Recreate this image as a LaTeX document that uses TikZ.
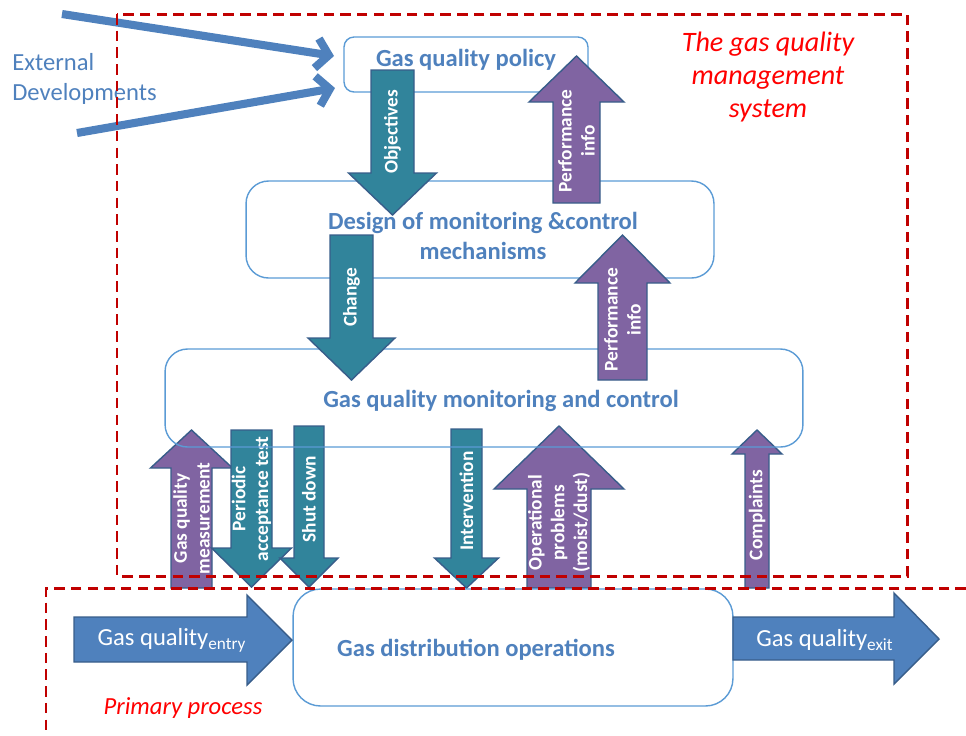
\documentclass[tikz,border=0pt]{standalone}
\usepackage{fontspec}
\setmainfont{Carlito}
\usetikzlibrary{arrows.meta}

\definecolor{boxblue}{RGB}{79,129,189}
\definecolor{boxline}{RGB}{91,155,213}
\definecolor{arrteal}{RGB}{49,132,155}
\definecolor{arrpurple}{RGB}{128,100,162}
\definecolor{arrline}{RGB}{56,93,138}
\definecolor{dashred}{RGB}{192,0,0}

\tikzset{
  procbox/.style={draw=boxline, line width=0.8pt, inner sep=0pt},
  boxlabel/.style={text=boxblue, font=\fontsize{14}{17}\selectfont\bfseries, align=center},
  tealarrow/.style={fill=arrteal, draw=arrline, line width=0.8pt},
  purplearrow/.style={fill=arrpurple, draw=arrline, line width=0.8pt},
  bluearrow/.style={fill=boxblue, draw=arrline, line width=0.8pt},
  arrowlabel/.style={text=white, font=\fontsize{11}{13}\selectfont\bfseries,
    align=center, rotate=90, inner sep=0pt},
  flowlabel/.style={text=white, font=\fontsize{14}{17}\selectfont},
  dashframe/.style={draw=dashred, line width=1.7pt, dash pattern=on 6pt off 3.5pt},
  redlabel/.style={text=red, font=\fontsize{16}{19}\selectfont\itshape, align=center},
  extarrow/.style={draw=boxblue, line width=4.6pt, -{Straight Barb[length=7pt,width=17pt]}},
}

% block arrow: name, x, tail y, head base y, tip y, half shaft, half head, style, text
\newcommand{\blockarrow}[9]{%
  \draw[#8] (#2-#6,#3) -- (#2-#6,#4) -- (#2-#7,#4) -- (#2,#5)
    -- (#2+#7,#4) -- (#2+#6,#4) -- (#2+#6,#3) -- cycle;
  \node[arrowlabel] (#1) at (#2,{0.5*#3+0.25*#4+0.25*#5}) {#9};
}

\begin{document}
\begin{tikzpicture}[x=0.02cm,y=-0.02cm]
  \useasboundingbox (0,0) rectangle (966,735);

  % bottom arrows between monitoring and operations
  \blockarrow{measure}{191.5}{588}{468}{430}{20.5}{41}{purplearrow}{Gas quality\\measurement}
  \blockarrow{periodic}{251.5}{430}{548}{587}{20.5}{40}{tealarrow}{Periodic\\acceptance test}
  \blockarrow{shutdown}{309}{426}{558}{587}{15}{29}{tealarrow}{Shut down}
  \blockarrow{interv}{466.5}{429}{558}{588}{15.5}{32}{tealarrow}{Intervention}
  \blockarrow{operat}{559}{588}{489}{426}{32}{65}{purplearrow}{Operational\\problems\\(moist/dust)}
  \blockarrow{complain}{757}{588}{454}{430}{12}{25}{purplearrow}{Complaints}

  % boxes
  \node (policy) [procbox, rounded corners=0.2cm, minimum width=4.88cm,
    minimum height=1.1cm] at (466,64.5) {};
  \node (design) [procbox, rounded corners=0.45cm, minimum width=9.36cm,
    minimum height=1.94cm] at (480,229.5) {};
  \node (monitor) [procbox, rounded corners=0.45cm, minimum width=12.76cm,
    minimum height=1.96cm] at (484,398) {};
  \node (distrib) [procbox, fill=white, rounded corners=0.55cm, minimum width=8.8cm,
    minimum height=2.34cm] at (513,647.5) {};

  \node (policytxt) [boxlabel] at (466,60) {Gas quality policy};
  \node (designtxt) [boxlabel] at (483,236) {Design of monitoring \&control\\mechanisms};
  \node (monitortxt) [boxlabel] at (501,401) {Gas quality monitoring and control};
  \node (distribtxt) [boxlabel] at (476,650) {Gas distribution operations};

  % arrows between the upper boxes
  \blockarrow{objectives}{392.5}{70}{173}{215}{21.5}{44}{tealarrow}{Objectives}
  \blockarrow{perftop}{576.5}{203}{102}{56}{23.5}{47.5}{purplearrow}{Performance\\info}
  \blockarrow{change}{351.5}{235}{338}{380}{21.5}{43.5}{tealarrow}{Change}
  \blockarrow{perfmid}{622.5}{380}{283}{235}{24.5}{47.5}{purplearrow}{Performance\\info}

  % primary flow
  \draw[bluearrow] (74,617) -- (247,617) -- (247,595) -- (292,640)
    -- (247,685) -- (247,662) -- (74,662) -- cycle;
  \node (entry) [flowlabel] at (172,640) {Gas quality\textsubscript{entry}};
  \draw[bluearrow] (733,617) -- (894,617) -- (894,593) -- (939,639)
    -- (894,684) -- (894,660) -- (733,660) -- cycle;
  \node (exit) [flowlabel] at (825,640) {Gas quality\textsubscript{exit}};

  % external developments
  \node (external) [anchor=west, align=left, inner sep=0pt, text=boxblue,
    font=\fontsize{14}{17}\selectfont] at (12,79) {External\\Developments};
  \coordinate (ext1) at (62,14);
  \coordinate (ext1end) at (334,56);
  \coordinate (ext2) at (77,133);
  \coordinate (ext2end) at (335,88);
  \draw[extarrow] (ext1) -- (ext1end);
  \draw[extarrow] (ext2) -- (ext2end);

  % dashed frames
  \draw[dashframe] (117,14) rectangle (907,576);
  \draw[dashframe] (966,588) -- (46,588) -- (46,735);
  \node (qms) [redlabel] at (768,77) {The gas quality\\management\\system};
  \node (primary) [redlabel, font=\fontsize{14}{17}\selectfont\itshape] at (183,708) {Primary process};
\end{tikzpicture}
\end{document}
